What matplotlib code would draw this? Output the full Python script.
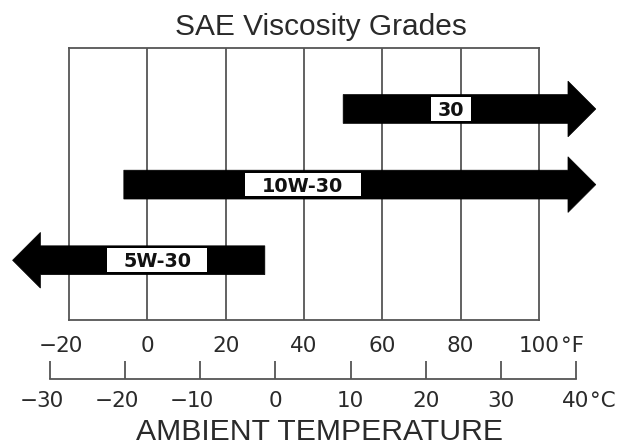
import numpy as np
import matplotlib.pyplot as plt
from matplotlib.patches import Polygon, Rectangle
from matplotlib import transforms

# oil grades and their usable ambient range in deg F (inf = open ended arrow)
grades = ['5W-30', '10W-30', '30']
low_f = [-np.inf, -6, 50]
high_f = [30, np.inf, np.inf]

f_ticks = [-20, 0, 20, 40, 60, 80, 100]
c_ticks = [-30, -20, -10, 0, 10, 20, 30, 40]

# layout of the label boxes on the arrows (deg F)
label_cx = [2.5, 39.7, 77.5]
label_w = [25.5, 29.6, 10.2]

W, H = 619, 445
LINE = '#555555'
TXT = '#2a2a2a'

fig = plt.figure(figsize=(W / 100, H / 100), dpi=100)


def px(x0, y0, x1, y1):
    return [x0 / W, 1 - y1 / H, (x1 - x0) / W, (y1 - y0) / H]


ax = fig.add_axes(px(69, 47.7, 539, 320))
ax.set_xlim(-20, 100)
ax.set_ylim(-0.79, 2.81)
ax.set_xticks([])
ax.set_yticks([])
for s in ax.spines.values():
    s.set_color(LINE)
    s.set_linewidth(1.3)
for v in f_ticks[1:-1]:
    ax.axvline(v, color=LINE, lw=1.3, zorder=1)

bar_h = 0.381
head_h = 0.736
head_len = 7.1
tip_r = 114.5
tip_l = -34.4

for i, g in enumerate(grades):
    y = i
    lo, hi = low_f[i], high_f[i]
    if np.isinf(hi):
        base = tip_r - head_len
        pts = [(lo, y - bar_h / 2), (base, y - bar_h / 2), (base, y - head_h / 2),
               (tip_r, y), (base, y + head_h / 2), (base, y + bar_h / 2), (lo, y + bar_h / 2)]
    else:
        base = tip_l + head_len
        pts = [(hi, y - bar_h / 2), (base, y - bar_h / 2), (base, y - head_h / 2),
               (tip_l, y), (base, y + head_h / 2), (base, y + bar_h / 2), (hi, y + bar_h / 2)]
    ax.add_patch(Polygon(pts, closed=True, fc='black', ec='black', lw=0.5,
                         zorder=3, clip_on=False))
    bh = 0.313
    ax.add_patch(Rectangle((label_cx[i] - label_w[i] / 2, y - bh / 2), label_w[i], bh,
                           fc='white', ec='none', zorder=4, clip_on=False))
    tr = transforms.offset_copy(ax.transData, fig, y=-5, units='points')
    ax.text(label_cx[i], y, g, ha='center', va='baseline', transform=tr,
            fontsize=13.8, fontweight='bold', family='DejaVu Sans', color='#111111', zorder=5)

# tick labels, digits centred on the tick and minus sign hanging to the left
FS = 15.5


def tick_labels(axis, ticks, ybase):
    tf = transforms.blended_transform_factory(axis.transData, fig.transFigure)
    for v in ticks:
        d = str(abs(v))
        axis.text(v, 1 - ybase / H, d, ha='center', va='baseline', transform=tf,
                  fontsize=FS, family='DejaVu Sans', color=TXT)
        if v < 0:
            half = len(d) * 0.636 * FS / 2
            tm = transforms.offset_copy(tf, fig, x=-half + 1, units='points')
            axis.text(v, 1 - ybase / H, '\u2212', ha='right', va='baseline', transform=tm,
                      fontsize=FS, family='DejaVu Sans', color=TXT)
    return tf


tf = tick_labels(ax, f_ticks, 351.7)
tu = transforms.offset_copy(tf, fig, x=1.5 * 0.636 * FS + 1, units='points')
ax.text(f_ticks[-1], 1 - 351.7 / H, '°F', ha='left', va='baseline', transform=tu,
        fontsize=FS, family='DejaVu Sans', color=TXT)

# celsius scale
ax2 = fig.add_axes(px(50, 360, 576, 379.3))
ax2.set_xlim(-30, 40)
ax2.patch.set_alpha(0)
for k in ['top', 'left', 'right']:
    ax2.spines[k].set_visible(False)
ax2.spines['bottom'].set_color(LINE)
ax2.spines['bottom'].set_linewidth(1.3)
ax2.set_yticks([])
ax2.set_xticks(c_ticks)
ax2.set_xticklabels([])
ax2.tick_params(axis='x', direction='in', length=12.7, width=1.3, color=LINE)

tc = tick_labels(ax2, c_ticks, 407.3)
tu2 = transforms.offset_copy(tc, fig, x=0.636 * FS + 0.5, units='points')
ax2.text(c_ticks[-1], 1 - 407.3 / H, '°C', ha='left', va='baseline', transform=tu2,
         fontsize=FS, family='DejaVu Sans', color=TXT)

fig.text(321 / W, 1 - 35 / H, 'SAE Viscosity Grades', ha='center', va='baseline',
         fontsize=21.5, family='Liberation Sans', color=TXT)
fig.text(320 / W, 1 - 440 / H, 'AMBIENT TEMPERATURE', ha='center', va='baseline',
         fontsize=21.7, family='Liberation Sans', color=TXT)

fig.savefig('out.png', dpi=100)
